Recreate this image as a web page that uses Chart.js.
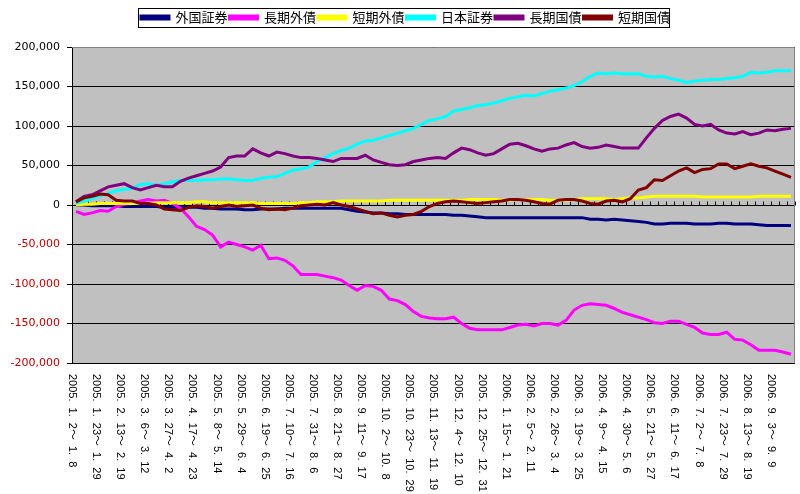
<!DOCTYPE html>
<html>
<head>
<meta charset="utf-8">
<script src="https://cdn.jsdelivr.net/npm/chart.js@4.4.0/dist/chart.umd.min.js"></script>
<style>
  html, body { margin: 0; padding: 0; background: #fff; }
</style>
</head>
<body>
<canvas id="grafico" width="800" height="494"></canvas>
<script>
// semanas (domingo ~ sábado), 2005.1.2 ~ 2006.9.23
const semanas = [
    "2005.1.2-1.8", "2005.1.9-1.15", "2005.1.16-1.22", "2005.1.23-1.29", "2005.1.30-2.5",
    "2005.2.6-2.12", "2005.2.13-2.19", "2005.2.20-2.26", "2005.2.27-3.5", "2005.3.6-3.12",
    "2005.3.13-3.19", "2005.3.20-3.26", "2005.3.27-4.2", "2005.4.3-4.9", "2005.4.10-4.16",
    "2005.4.17-4.23", "2005.4.24-4.30", "2005.5.1-5.7", "2005.5.8-5.14", "2005.5.15-5.21",
    "2005.5.22-5.28", "2005.5.29-6.4", "2005.6.5-6.11", "2005.6.12-6.18", "2005.6.19-6.25",
    "2005.6.26-7.2", "2005.7.3-7.9", "2005.7.10-7.16", "2005.7.17-7.23", "2005.7.24-7.30",
    "2005.7.31-8.6", "2005.8.7-8.13", "2005.8.14-8.20", "2005.8.21-8.27", "2005.8.28-9.3",
    "2005.9.4-9.10", "2005.9.11-9.17", "2005.9.18-9.24", "2005.9.25-10.1", "2005.10.2-10.8",
    "2005.10.9-10.15", "2005.10.16-10.22", "2005.10.23-10.29", "2005.10.30-11.5", "2005.11.6-11.12",
    "2005.11.13-11.19", "2005.11.20-11.26", "2005.11.27-12.3", "2005.12.4-12.10", "2005.12.11-12.17",
    "2005.12.18-12.24", "2005.12.25-12.31", "2006.1.1-1.7", "2006.1.8-1.14", "2006.1.15-1.21",
    "2006.1.22-1.28", "2006.1.29-2.4", "2006.2.5-2.11", "2006.2.12-2.18", "2006.2.19-2.25",
    "2006.2.26-3.4", "2006.3.5-3.11", "2006.3.12-3.18", "2006.3.19-3.25", "2006.3.26-4.1",
    "2006.4.2-4.8", "2006.4.9-4.15", "2006.4.16-4.22", "2006.4.23-4.29", "2006.4.30-5.6",
    "2006.5.7-5.13", "2006.5.14-5.20", "2006.5.21-5.27", "2006.5.28-6.3", "2006.6.4-6.10",
    "2006.6.11-6.17", "2006.6.18-6.24", "2006.6.25-7.1", "2006.7.2-7.8", "2006.7.9-7.15",
    "2006.7.16-7.22", "2006.7.23-7.29", "2006.7.30-8.5", "2006.8.6-8.12", "2006.8.13-8.19",
    "2006.8.20-8.26", "2006.8.27-9.2", "2006.9.3-9.9", "2006.9.10-9.16", "2006.9.17-9.23"
];

const nomesSeries = ['外国証券', '長期外債', '短期外債', '日本証券', '長期国債', '短期国債'];
const coresSeries = ['#000080', '#FF00FF', '#FFFF00', '#00FFFF', '#800080', '#800000'];

const gaikokuShoken = [
    0, 0, -1000, -1000, -1000, -1000, -2000, -2000, -2000, -2000,
    -2000, -3000, -3000, -3000, -3000, -3000, -4000, -4000, -5000, -5000,
    -5000, -6000, -6000, -5000, -5000, -5000, -4000, -4000, -4000, -4000,
    -4000, -4000, -4000, -4000, -6000, -8000, -9000, -10000, -10000, -11000,
    -11000, -12000, -12000, -12000, -12000, -12000, -12000, -13000, -13000, -14000,
    -15000, -16000, -16000, -16000, -16000, -16000, -16000, -16000, -16000, -16000,
    -16000, -16000, -16000, -16000, -18000, -18000, -19000, -18000, -19000, -20000,
    -21000, -22000, -24000, -24000, -23000, -23000, -23000, -24000, -24000, -24000,
    -23000, -23000, -24000, -24000, -24000, -25000, -26000, -26000, -26000, -26000
];
const chokiGaisai = [
    -8000, -12000, -10000, -7000, -8000, -2000, 1000, 2000, 5000, 7000,
    5000, 6000, 2000, -4000, -15000, -27000, -31000, -38000, -53000, -47000,
    -50000, -53000, -57000, -51000, -68000, -67000, -70000, -77000, -88000, -88000,
    -88000, -90000, -92000, -95000, -102000, -108000, -102000, -103000, -108000, -119000,
    -121000, -126000, -135000, -141000, -143000, -144000, -144000, -142000, -150000, -156000,
    -158000, -158000, -158000, -158000, -155000, -152000, -151000, -153000, -150000, -150000,
    -152000, -146000, -133000, -127000, -125000, -126000, -127000, -131000, -136000, -139000,
    -142000, -145000, -149000, -150000, -147000, -147000, -151000, -155000, -162000, -164000,
    -164000, -161000, -170000, -171000, -177000, -184000, -184000, -184000, -186000, -189000
];
const tankiGaisai = [
    0, 1000, 1000, 2000, 2000, 2000, 2000, 2000, 2000, 2000,
    3000, 3000, 3000, 3000, 3000, 4000, 4000, 3000, 3000, 3000,
    3000, 3000, 3000, 2000, 2000, 2000, 2000, 2000, 3000, 3000,
    4000, 4000, 4000, 5000, 5000, 5000, 5000, 5000, 5000, 6000,
    6000, 6000, 6000, 6000, 6000, 6000, 6000, 6000, 6000, 7000,
    7000, 7000, 7000, 6000, 6000, 7000, 7000, 7000, 7000, 6000,
    6000, 6000, 7000, 8000, 8000, 8000, 8000, 7000, 8000, 9000,
    9000, 10000, 11000, 11000, 11000, 11000, 11000, 11000, 10000, 10000,
    10000, 10000, 10000, 10000, 10000, 11000, 11000, 11000, 11000, 11000
];
const nihonShoken = [
    2000, 5000, 8000, 12000, 15000, 18000, 20000, 21000, 26000, 27000,
    25000, 27000, 29000, 31000, 31000, 31000, 32000, 32000, 33000, 33000,
    32000, 31000, 31000, 34000, 35000, 36000, 40000, 44000, 46000, 48000,
    55000, 60000, 65000, 69000, 72000, 77000, 81000, 82000, 85000, 88000,
    91000, 94000, 97000, 102000, 107000, 109000, 112000, 119000, 121000, 123000,
    126000, 127000, 129000, 132000, 135000, 137000, 139000, 138000, 141000, 144000,
    146000, 148000, 151000, 156000, 163000, 167000, 166000, 167000, 166000, 166000,
    166000, 163000, 162000, 163000, 160000, 158000, 155000, 157000, 158000, 159000,
    159000, 160000, 161000, 163000, 168000, 167000, 168000, 170000, 170000, 170000
];
const chokiKokusai = [
    4000, 11000, 13000, 18000, 23000, 25000, 27000, 22000, 19000, 22000,
    25000, 23000, 23000, 30000, 34000, 37000, 40000, 43000, 48000, 60000,
    62000, 62000, 71000, 66000, 62000, 67000, 65000, 62000, 60000, 60000,
    59000, 57000, 55000, 59000, 59000, 59000, 63000, 57000, 54000, 51000,
    50000, 51000, 55000, 57000, 59000, 60000, 59000, 66000, 72000, 70000,
    66000, 63000, 65000, 71000, 77000, 78000, 75000, 71000, 68000, 71000,
    72000, 76000, 79000, 74000, 72000, 73000, 76000, 74000, 72000, 72000,
    72000, 85000, 97000, 107000, 112000, 115000, 110000, 102000, 100000, 102000,
    95000, 91000, 90000, 93000, 89000, 91000, 95000, 94000, 96000, 97000
];
const tankiKokusai = [
    4000, 9000, 11000, 14000, 13000, 6000, 5000, 5000, 2000, 2000,
    0, -5000, -6000, -7000, -3000, -1000, -2000, -4000, -2000, 0,
    -2000, -1000, 0, -4000, -6000, -5000, -6000, -4000, -1000, 0,
    1000, 0, 3000, 0, -2000, -5000, -8000, -11000, -10000, -13000,
    -15000, -13000, -12000, -8000, -2000, 2000, 4000, 5000, 4000, 3000,
    2000, 3000, 4000, 5000, 7000, 7000, 6000, 4000, 2000, 1000,
    6000, 7000, 7000, 5000, 2000, 1000, 5000, 6000, 4000, 8000,
    19000, 22000, 32000, 31000, 37000, 43000, 47000, 41000, 45000, 46000,
    52000, 52000, 46000, 49000, 52000, 49000, 47000, 43000, 39000, 35000
];

const valoresSeries = [gaikokuShoken, chokiGaisai, tankiGaisai, nihonShoken, chokiKokusai, tankiKokusai];

// "2005.1.2-1.8" -> "2005. 1. 2～ 1. 8"
function formatarSemana(semana) {
    const [inicio, fim] = semana.split('-');
    return inicio.split('.').join('. ') + '～ ' + fim.split('.').join('. ');
}

const fundo = {
    id: 'fundo',
    beforeDraw(chart) {
        const { ctx, chartArea: a } = chart;
        ctx.save();
        ctx.fillStyle = '#fff';
        ctx.fillRect(0, 0, chart.width, chart.height);
        ctx.fillStyle = '#C0C0C0';
        ctx.fillRect(a.left, a.top, a.right - a.left, a.bottom - a.top);
        ctx.restore();
    }
};

// borda cinza da área e marcas do eixo de categorias em y = 0
const eixoZero = {
    id: 'eixoZero',
    beforeDatasetsDraw(chart) {
        const { ctx, chartArea: a, scales: { x, y } } = chart;
        const faixa = x.getPixelForValue(1) - x.getPixelForValue(0);
        const y0 = Math.round(y.getPixelForValue(0)) + 0.5;
        ctx.save();
        ctx.strokeStyle = '#808080';
        ctx.lineWidth = 1;
        ctx.beginPath();
        ctx.moveTo(a.left, a.top + 0.5);
        ctx.lineTo(a.right - 0.5, a.top + 0.5);
        ctx.lineTo(a.right - 0.5, a.bottom - 0.5);
        ctx.stroke();
        ctx.strokeStyle = '#000';
        ctx.beginPath();
        for (let i = 0; i <= chart.data.labels.length; i++) {
            const px = Math.round(x.getPixelForValue(0) - faixa / 2 + i * faixa) + 0.5;
            ctx.moveTo(px, y0);
            ctx.lineTo(px, y0 - 4);
        }
        ctx.stroke();
        ctx.restore();
    }
};

// rótulos do eixo x girados no sentido horário, um a cada 3 semanas
const rotulosEixoX = {
    id: 'rotulosEixoX',
    afterDraw(chart) {
        const { ctx, chartArea, scales: { x } } = chart;
        const meiaFaixa = (x.getPixelForValue(1) - x.getPixelForValue(0)) / 2;
        ctx.save();
        ctx.font = '11px "Liberation Sans", "Noto Sans CJK JP"';
        ctx.wordSpacing = '3px';
        ctx.fillStyle = '#000';
        ctx.textAlign = 'left';
        ctx.textBaseline = 'middle';
        chart.data.labels.forEach((rotulo, i) => {
            if (i % 3 !== 0) return;
            ctx.save();
            ctx.translate(x.getPixelForValue(i) - meiaFaixa, chartArea.bottom + 11);
            ctx.rotate(Math.PI / 2);
            ctx.fillText(rotulo, 0, 0);
            ctx.restore();
        });
        ctx.restore();
    }
};

// moldura da legenda, espaço abaixo dela e leve deslocamento para a direita
const caixaLegenda = {
    id: 'caixaLegenda',
    beforeLayout(chart) {
        const legenda = chart.legend;
        if (!legenda || legenda._ajustada) return;
        const fitOriginal = legenda.fit;
        legenda.fit = function () {
            fitOriginal.call(this);
            this.height += 13;
        };
        legenda._ajustada = true;
    },
    afterLayout(chart) {
        chart.legend.left += 8;
        chart.legend.right += 8;
    },
    afterDraw(chart) {
        const caixas = chart.legend.legendHitBoxes;
        if (!caixas || !caixas.length) return;
        const ultima = caixas[caixas.length - 1];
        const esquerda = Math.round(caixas[0].left - 3) + 0.5;
        const direita = Math.round(ultima.left + ultima.width - 1) + 0.5;
        const ctx = chart.ctx;
        ctx.save();
        ctx.strokeStyle = '#000';
        ctx.lineWidth = 1;
        ctx.strokeRect(esquerda, Math.round(caixas[0].top - 3) + 0.5,
            direita - esquerda, Math.round(caixas[0].height + 6));
        ctx.restore();
    }
};

new Chart(document.getElementById('grafico'), {
    type: 'line',
    data: {
        labels: semanas.map(formatarSemana),
        datasets: nomesSeries.map((nome, i) => ({
            label: nome,
            data: valoresSeries[i],
            borderColor: coresSeries[i],
            backgroundColor: coresSeries[i],
            borderWidth: 3,
            pointRadius: 0,
            tension: 0,
            order: nomesSeries.length - i   // séries posteriores ficam por cima
        }))
    },
    options: {
        responsive: false,
        animation: false,
        layout: { padding: { top: 9, right: 5, bottom: 123, left: 0 } },
        plugins: {
            legend: {
                position: 'top',
                labels: {
                    boxWidth: 28,
                    boxHeight: 3,
                    padding: 2,
                    color: '#000',
                    font: { family: '"Noto Sans CJK JP"', size: 13 },
                    sort: (a, b) => a.datasetIndex - b.datasetIndex
                }
            },
            tooltip: { enabled: false }
        },
        scales: {
            x: {
                offset: true,
                grid: { display: false },
                border: { display: false },
                ticks: { display: false }
            },
            y: {
                min: -200000,
                max: 200000,
                afterFit(escala) { escala.width = 72; },
                ticks: {
                    stepSize: 50000,
                    padding: 7,
                    font: { family: '"DejaVu Sans"', size: 11 },
                    color: (c) => c.tick && c.tick.value < 0 ? '#C00000' : '#000',
                    callback: (v) => v.toLocaleString('en-US')
                },
                grid: { color: '#000', tickLength: 5 },
                border: { color: '#000' }
            }
        }
    },
    plugins: [fundo, eixoZero, rotulosEixoX, caixaLegenda]
});
</script>
</body>
</html>
